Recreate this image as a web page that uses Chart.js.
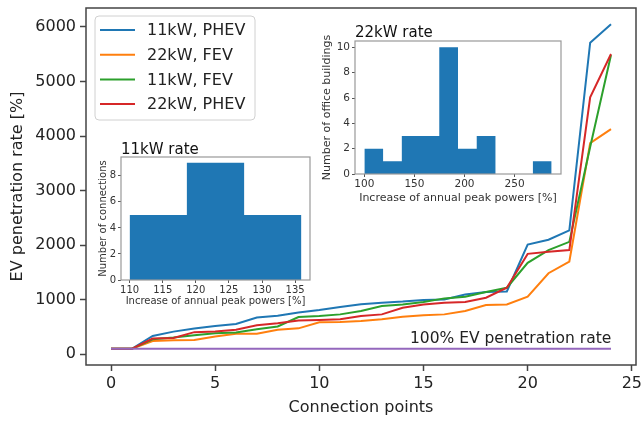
<!DOCTYPE html>
<html>
<head>
<meta charset="utf-8">
<title>EV penetration rate vs connection points</title>
<script src="https://cdn.jsdelivr.net/npm/chart.js"></script>
<style>
  body { margin: 0; background: #fff; }
  #wrap { position: relative; width: 641px; height: 421px; }
  canvas { position: absolute; }
</style>
</head>
<body>
<div id="wrap">
  <canvas id="main" width="641" height="421" style="left:0;top:0"></canvas>
  <canvas id="hist11" width="228" height="170" style="left:88px;top:140px"></canvas>
  <canvas id="hist22" width="255" height="192" style="left:312px;top:18px"></canvas>
</div>
<script>
// main chart data
const connectionPoints = [0, 1, 2, 3, 4, 5, 6, 7, 8, 9, 10, 11, 12, 13, 14, 15, 16, 17, 18, 19, 20, 21, 22, 23, 24];
const phev11 = [100, 100, 335, 415, 470, 520, 555, 675, 705, 765, 810, 865, 915, 945, 965, 995, 1005, 1095, 1140, 1150, 2010, 2100, 2270, 5710, 6050];
const fev22  = [100, 100, 243, 255, 262, 325, 375, 378, 450, 475, 585, 592, 609, 640, 689, 713, 731, 792, 902, 914, 1054, 1485, 1700, 3870, 4126];
const fev11  = [100, 100, 274, 305, 347, 385, 397, 457, 510, 683, 700, 731, 792, 883, 914, 956, 1024, 1054, 1140, 1219, 1676, 1910, 2060, 3800, 5485];
const phev22 = [100, 100, 287, 300, 405, 415, 450, 530, 570, 620, 630, 640, 700, 731, 853, 914, 945, 957, 1036, 1219, 1840, 1880, 1910, 4710, 5503];
const fullRate = [100, 100, 100, 100, 100, 100, 100, 100, 100, 100, 100, 100, 100, 100, 100, 100, 100, 100, 100, 100, 100, 100, 100, 100, 100];
const seriesLabels = ['11kW, PHEV', '22kW, FEV', '11kW, FEV', '22kW, PHEV'];
const seriesColors = ['#1f77b4', '#ff7f0e', '#2ca02c', '#d62728'];
const xTicks = [0, 5, 10, 15, 20, 25];
const yTicks = [0, 1000, 2000, 3000, 4000, 5000, 6000];
const refText = '100% EV penetration rate';

// inset histograms
const rate11Edges = [110, 118.65, 127.3, 135.95];
const rate11Counts = [5, 9, 5];
const rate11XTicks = [110, 115, 120, 125, 130, 135];
const rate11YTicks = [0, 2, 4, 6, 8];
const rate22Edges = [100, 118.7, 137.4, 156.1, 174.8, 193.5, 212.2, 230.9, 249.6, 268.3, 287];
const rate22Counts = [2, 1, 3, 3, 10, 2, 3, 0, 0, 1];
const rate22XTicks = [100, 150, 200, 250];
const rate22YTicks = [0, 2, 4, 6, 8, 10];

Chart.defaults.font.family = '"DejaVu Sans", sans-serif';
Chart.defaults.color = '#222';

const pts = (ys) => connectionPoints.map((x, i) => ({x: x, y: ys[i]}));
const fixTicks = (list) => (s) => { s.ticks = list.map(v => ({value: v})); };
// pin axis box size and drop the label overflow padding so the plot area stays put
const fitBox = (prop, size) => (s) => {
  s[prop] = size;
  s.paddingLeft = s.paddingRight = s.paddingTop = s.paddingBottom = 0;
};

const mainDecor = {
  id: 'mainDecor',
  afterDatasetsDraw(chart) {
    const {ctx, chartArea: a, scales} = chart;
    ctx.save();
    ctx.strokeStyle = '#444';
    ctx.lineWidth = 1.5;
    ctx.strokeRect(a.left, a.top, a.right - a.left, a.bottom - a.top);

    ctx.fillStyle = '#222';
    ctx.font = '15.5px "DejaVu Sans"';
    ctx.textBaseline = 'alphabetic';
    ctx.fillText(refText, scales.x.getPixelForValue(14.35), scales.y.getPixelForValue(210));

    // legend box, upper left
    const bx = a.left + 9, by = a.top + 8, bw = 160, bh = 104;
    ctx.beginPath();
    ctx.roundRect(bx, by, bw, bh, 4);
    ctx.fillStyle = 'rgba(255,255,255,0.85)';
    ctx.fill();
    ctx.strokeStyle = '#d0d0d0';
    ctx.lineWidth = 1;
    ctx.stroke();
    ctx.font = '16px "DejaVu Sans"';
    ctx.textBaseline = 'middle';
    seriesLabels.forEach((lab, i) => {
      const yy = by + 14 + i * 24.7;
      ctx.strokeStyle = seriesColors[i];
      ctx.lineWidth = 2;
      ctx.beginPath();
      ctx.moveTo(bx + 5, yy);
      ctx.lineTo(bx + 40, yy);
      ctx.stroke();
      ctx.fillStyle = '#222';
      ctx.fillText(lab, bx + 52, yy + 1);
    });
    ctx.restore();
  }
};

new Chart(document.getElementById('main').getContext('2d'), {
  type: 'line',
  data: {
    datasets: [
      {label: seriesLabels[0], data: pts(phev11), borderColor: seriesColors[0], order: 0},
      {label: seriesLabels[1], data: pts(fev22), borderColor: seriesColors[1], order: -1},
      {label: seriesLabels[2], data: pts(fev11), borderColor: seriesColors[2], order: -2},
      {label: seriesLabels[3], data: pts(phev22), borderColor: seriesColors[3], order: -3},
      {label: 'full', data: pts(fullRate), borderColor: '#9467bd', order: -4}
    ]
  },
  options: {
    responsive: false,
    animation: false,
    layout: {padding: {left: 0, top: 8, right: 5, bottom: 0}},
    elements: {point: {radius: 0}, line: {borderWidth: 2, tension: 0}},
    plugins: {legend: {display: false}, tooltip: {enabled: false}},
    scales: {
      x: {
        type: 'linear', min: -1.2, max: 25.2,
        afterBuildTicks: fixTicks(xTicks),
        afterFit: fitBox('height', 56),
        grid: {drawOnChartArea: false, tickLength: 6, tickColor: '#444', tickWidth: 1.5},
        border: {display: false},
        ticks: {font: {size: 16}, padding: 3, color: '#222'},
        title: {display: true, text: 'Connection points', font: {size: 16}, padding: {top: 0, bottom: 4}, color: '#222'}
      },
      y: {
        min: -197, max: 6347,
        afterBuildTicks: fixTicks(yTicks),
        afterFit: fitBox('width', 86),
        grid: {drawOnChartArea: false, tickLength: 6, tickColor: '#444', tickWidth: 1.5},
        border: {display: false},
        ticks: {font: {size: 16}, padding: 4, color: '#222', callback: (v) => String(v)},
        title: {display: true, text: 'EV penetration rate [%]', font: {size: 16}, padding: {top: 8}, color: '#222'}
      }
    }
  },
  plugins: [mainDecor]
});

const insetDecor = {
  id: 'insetDecor',
  beforeDraw(chart) {
    const {ctx, chartArea: a} = chart;
    ctx.save();
    ctx.fillStyle = '#fff';
    ctx.fillRect(a.left, a.top, a.right - a.left, a.bottom - a.top);
    ctx.restore();
  },
  afterDatasetsDraw(chart, args, opts) {
    const {ctx, chartArea: a} = chart;
    ctx.save();
    ctx.strokeStyle = '#999';
    ctx.lineWidth = 1.2;
    ctx.strokeRect(a.left, a.top, a.right - a.left, a.bottom - a.top);
    ctx.fillStyle = '#111';
    ctx.font = opts.size + 'px "DejaVu Sans"';
    ctx.textBaseline = 'alphabetic';
    ctx.fillText(opts.title, a.left, a.top - opts.gap);
    ctx.restore();
  }
};

function histogram(id, edges, counts, xt, yt, cfg) {
  // step line through the bin edges, filled down to zero
  const steps = edges.map((e, i) => ({x: e, y: counts[Math.max(i - 1, 0)]}));
  const span = edges[edges.length - 1] - edges[0];
  new Chart(document.getElementById(id).getContext('2d'), {
    type: 'line',
    data: {
      datasets: [{
        data: steps, stepped: 'after', fill: 'origin',
        borderWidth: 0, borderColor: 'rgba(0,0,0,0)', backgroundColor: '#1f77b4', pointRadius: 0
      }]
    },
    options: {
      responsive: false,
      animation: false,
      layout: {padding: {left: 0, top: cfg.top, right: cfg.right, bottom: 0}},
      plugins: {legend: {display: false}, tooltip: {enabled: false},
        insetDecor: {title: cfg.title, size: 15, gap: cfg.gap}},
      scales: {
        x: {
          type: 'linear', min: edges[0] - span * 0.05, max: edges[edges.length - 1] + span * 0.05,
          afterBuildTicks: fixTicks(xt),
          afterFit: fitBox('height', cfg.xh),
          grid: {drawOnChartArea: false, tickLength: 3, tickColor: '#555'},
          border: {display: false},
          ticks: {font: {size: cfg.tick}, padding: 1, color: '#333'},
          title: {display: true, text: 'Increase of annual peak powers [%]', font: {size: cfg.lab},
            padding: {top: 0, bottom: cfg.xtPad}, color: '#333'}
        },
        y: {
          min: 0, max: cfg.ymax,
          afterBuildTicks: fixTicks(yt),
          afterFit: fitBox('width', cfg.yw),
          grid: {drawOnChartArea: false, tickLength: 3, tickColor: '#555'},
          border: {display: false},
          ticks: {font: {size: cfg.tick}, padding: 2, color: '#333'},
          title: {display: true, text: cfg.ylab, font: {size: cfg.lab}, padding: {top: cfg.ytPad}, color: '#333'}
        }
      }
    },
    plugins: [insetDecor]
  });
}

histogram('hist11', rate11Edges, rate11Counts, rate11XTicks, rate11YTicks, {
  title: '11kW rate', ylab: 'Number of connections', ymax: 9.45,
  top: 17, right: 6, xh: 30, yw: 33, tick: 10, lab: 10, xtPad: 3, ytPad: 9, gap: 3
});
histogram('hist22', rate22Edges, rate22Counts, rate22XTicks, rate22YTicks, {
  title: '22kW rate', ylab: 'Number of office buildings', ymax: 10.5,
  top: 23, right: 6, xh: 36, yw: 43, tick: 10.5, lab: 11, xtPad: 5, ytPad: 9, gap: 4
});
</script>
</body>
</html>
